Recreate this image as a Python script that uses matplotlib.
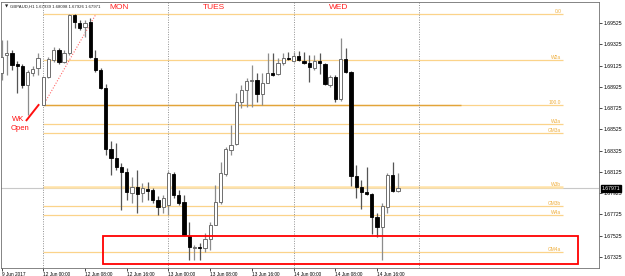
import numpy as np
import matplotlib
matplotlib.use("Agg")
import matplotlib.pyplot as plt
from matplotlib.patches import Rectangle

plt.rcParams['font.family'] = ['Liberation Sans', 'DejaVu Sans']

# GBPAUD H1 candles, 9 Jun 16:00 .. 14 Jun 20:00 (index 0 = 12 Jun 00:00)
opens = [1.69055, 1.69224, 1.69243, 1.69139, 1.69121, 1.68942, 1.69055, 1.69102,
         1.68754, 1.69017, 1.69177, 1.69271, 1.69158, 1.69243, 1.69600, 1.69525,
         1.69487, 1.69534, 1.69196, 1.69083, 1.68914, 1.68340, 1.68256, 1.68171,
         1.68124, 1.67927, 1.67983, 1.67927, 1.67964, 1.67955, 1.67861, 1.67795,
         1.67814, 1.68105, 1.67908, 1.67842, 1.67523, 1.67410, 1.67419, 1.67410,
         1.67494, 1.67626, 1.67842, 1.68105, 1.68331, 1.68387, 1.68782, 1.68895,
         1.68980, 1.68989, 1.68857, 1.68961, 1.69055, 1.69045, 1.69149, 1.69196,
         1.69168, 1.69215, 1.69168, 1.69149, 1.69102, 1.69168, 1.69139, 1.68942,
         1.69017, 1.68810, 1.69186, 1.69064, 1.68087, 1.67983, 1.67936, 1.67917,
         1.67701, 1.67607, 1.67795, 1.68096, 1.67946]
highs = [1.69365, 1.69365, 1.69271, 1.69168, 1.69139, 1.69083, 1.69121, 1.69243,
         1.69017, 1.69205, 1.69299, 1.69290, 1.69271, 1.69609, 1.69609, 1.69553,
         1.69553, 1.69572, 1.69271, 1.69102, 1.68951, 1.68416, 1.68397, 1.68209,
         1.68162, 1.68077, 1.68143, 1.68021, 1.68030, 1.67974, 1.67899, 1.67908,
         1.68134, 1.68124, 1.67955, 1.67908, 1.67654, 1.67438, 1.67457, 1.67551,
         1.67654, 1.68002, 1.68218, 1.68359, 1.68566, 1.68867, 1.68942, 1.69008,
         1.69130, 1.69055, 1.69055, 1.69243, 1.69243, 1.69196, 1.69243, 1.69252,
         1.69252, 1.69262, 1.69252, 1.69224, 1.69224, 1.69243, 1.69149, 1.69036,
         1.69036, 1.69384, 1.69290, 1.69074, 1.68190, 1.68049, 1.68171, 1.67927,
         1.67739, 1.67833, 1.68115, 1.68218, 1.68115]
lows = [1.68989, 1.69036, 1.69083, 1.68867, 1.68914, 1.68660, 1.69027, 1.69036,
        1.68750, 1.69008, 1.69158, 1.69139, 1.69149, 1.69224, 1.69478, 1.69459,
        1.69393, 1.69196, 1.69064, 1.68904, 1.68284, 1.68096, 1.68143, 1.67767,
        1.67861, 1.67833, 1.67739, 1.67842, 1.67861, 1.67833, 1.67720, 1.67739,
        1.67720, 1.67880, 1.67814, 1.67523, 1.67297, 1.67297, 1.67297, 1.67372,
        1.67391, 1.67626, 1.67823, 1.68087, 1.68284, 1.68378, 1.68726, 1.68735,
        1.68735, 1.68782, 1.68754, 1.68961, 1.69027, 1.69036, 1.69130, 1.69177,
        1.69158, 1.69168, 1.69139, 1.68970, 1.69083, 1.69045, 1.68942, 1.68923,
        1.68782, 1.68792, 1.69055, 1.67993, 1.67880, 1.67776, 1.67908, 1.67541,
        1.67513, 1.67297, 1.67739, 1.67936, 1.67936]
closes = [1.69205, 1.69243, 1.69130, 1.69121, 1.68942, 1.69064, 1.69092, 1.69196,
          1.69017, 1.69186, 1.69271, 1.69158, 1.69243, 1.69600, 1.69534, 1.69478,
          1.69525, 1.69205, 1.69083, 1.68914, 1.68340, 1.68256, 1.68171, 1.68124,
          1.67936, 1.67983, 1.67917, 1.67974, 1.67946, 1.67861, 1.67795, 1.67880,
          1.68115, 1.67908, 1.67833, 1.67532, 1.67419, 1.67419, 1.67410, 1.67494,
          1.67626, 1.67842, 1.68115, 1.68340, 1.68378, 1.68782, 1.68895, 1.68980,
          1.68989, 1.68857, 1.68961, 1.69055, 1.69036, 1.69149, 1.69196, 1.69186,
          1.69215, 1.69177, 1.69149, 1.69111, 1.69168, 1.69149, 1.68951, 1.69017,
          1.68810, 1.69186, 1.69064, 1.68087, 1.67983, 1.67936, 1.67917, 1.67701,
          1.67607, 1.67805, 1.68096, 1.67946, 1.67971]
first_index = -8

level_names = ["0.0", "W2a", "100.0", "W3a", "GM3a", "W3b", "GM3b", "W4a", "GM4a"]
level_prices = [1.69607, 1.69177, 1.68751, 1.68573, 1.68488, 1.67980, 1.67802, 1.67720, 1.67372]

day_names = ["MON", "TUES", "WED"]
xtick_labels = ["9 Jun 2017", "12 Jun 00:00", "12 Jun 08:00", "12 Jun 16:00", "13 Jun 00:00",
                "13 Jun 08:00", "13 Jun 16:00", "14 Jun 00:00", "14 Jun 08:00", "14 Jun 16:00"]
ytick_values = [1.69525, 1.69325, 1.69125, 1.68925, 1.68725, 1.68525,
                1.68325, 1.68125, 1.67925, 1.67725, 1.67525, 1.67325]
header = "GBPAUD,H1 1.67939 1.68098 1.67926 1.67971"
last_price = closes[-1]

fig = plt.figure(figsize=(6.25, 2.76), dpi=100)
ax = fig.add_axes([0.002, 8 / 276, 598 / 625, 266 / 276])

x = np.arange(len(opens)) + first_index
o = np.array(opens); h = np.array(highs); l = np.array(lows); c = np.array(closes)
up = c >= o

# current price line
ax.axhline(last_price, color="#c8c8c8", lw=0.8, zorder=1)

# fib / level lines
x_end = 99.6
for name, p in zip(level_names, level_prices):
    lw = 1.8 if name == "W3b" else 0.9
    col = "#ffe2a8" if name == "W3b" else "#fbd38a"
    ax.hlines(p, 0, x_end, color=col, lw=lw, zorder=1)
    ax.text(x_end - 0.3, p + 0.00004, name, fontsize=3.5, color="#efae3c",
            ha="right", va="bottom", zorder=2)
ax.hlines(level_prices[2], 0, 80, color="#e2a43a", lw=1.0, zorder=1)

# day separators
for d in [0, 24, 48, 72]:
    ax.axvline(d, color="#909090", lw=0.7, ls=(0, (1, 1.5)), zorder=1)
for name, xc in zip(day_names, [14.5, 32.7, 56.6]):
    ax.text(xc, 1.69666, name, color="#ff2020", fontsize=6, ha="center", va="center")

# fib drawing line
ax.plot([0, 10.1], [level_prices[2], level_prices[0]], color="#ff6a6a", lw=0.8,
        ls=(0, (1, 1.5)), zorder=2)

# candles
ax.vlines(x[up], l[up], h[up], color="#8c8c8c", lw=0.9, zorder=3)
ax.vlines(x[~up], l[~up], h[~up], color="#555555", lw=0.9, zorder=3)
ax.bar(x[up], c[up] - o[up], bottom=o[up], width=0.62, color="white",
       edgecolor="#6e6e6e", linewidth=0.7, zorder=4)
ax.bar(x[~up], o[~up] - c[~up], bottom=c[~up], width=0.62, color="black",
       edgecolor="black", linewidth=0.6, zorder=4)

# WK open annotation
ax.plot([-3.2, -0.9], [1.68611, 1.68754], color="#ff1010", lw=1.4, zorder=5)
ax.text(-4.8, 1.68620, "WK", color="#ff1010", fontsize=5.5, ha="center", va="center")
ax.text(-4.5, 1.68534, "Open", color="#ff1010", fontsize=5.5, ha="center", va="center")

# red box
ax.add_patch(Rectangle((11.5, 1.67259), 91.0, 0.00264, fill=False, edgecolor="#ff0000",
                       lw=1.3, zorder=6))

ax.text(-7.4, 1.69680, "\u25bc", fontsize=3.0, color="#202020", va="center",
        family="DejaVu Sans")
ax.text(-6.4, 1.69680, header, fontsize=3.1, color="#202020", va="center")

ax.set_xlim(-8.05, 106.6)
ax.set_ylim(1.67222, 1.69722)
ax.yaxis.tick_right()
ax.set_yticks(ytick_values)
ax.set_yticklabels(["%.5f" % v for v in ytick_values], fontsize=3.7)
ax.set_xticks([-8, 0, 8, 16, 24, 32, 40, 48, 56, 64])
ax.set_xticklabels(xtick_labels, fontsize=3.4)
for lab in ax.get_xticklabels():
    lab.set_ha("left")
ax.tick_params(axis="both", length=2, width=0.5, pad=1)
for s in ax.spines.values():
    s.set_linewidth(0.6)
    s.set_color("#707070")

# current price tag
ax.text(1.004, (last_price - 1.67222) / 0.025, "%.5f" % last_price, transform=ax.transAxes,
        fontsize=3.7, color="white", va="center", ha="left",
        bbox=dict(boxstyle="square,pad=0.15", fc="black", ec="black"))

fig.savefig("out.png", dpi=100)
